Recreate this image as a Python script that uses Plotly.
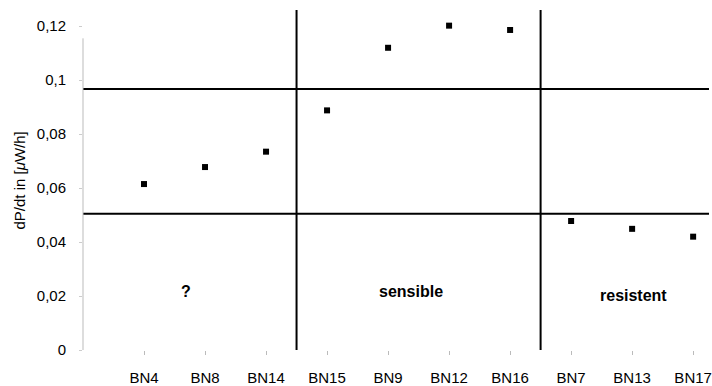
import plotly.graph_objects as go

categories = ["BN4", "BN8", "BN14", "BN15", "BN9", "BN12", "BN16", "BN7", "BN13", "BN17"]
values = [0.0615, 0.0678, 0.0735, 0.0888, 0.1120, 0.1202, 0.1186, 0.0478, 0.0449, 0.0420]
y_tickvals = [0, 0.02, 0.04, 0.06, 0.08, 0.10, 0.12]
y_ticktext = ["0", "0,02", "0,04", "0,06", "0,08", "0,1", "0,12"]
h_thresholds = [0.0967, 0.0505]
v_separators = [2.5, 6.5]
group_labels = ["?", "sensible", "resistent"]
group_label_x = [0.68, 4.38, 8.03]
group_label_y = [0.0215, 0.0215, 0.0203]

x_idx = list(range(len(categories)))
FONT = "Liberation Sans, Arial, sans-serif"

fig = go.Figure()
fig.add_trace(go.Scatter(
    x=x_idx, y=values, mode="markers",
    marker=dict(symbol="square", size=6, color="black"),
    showlegend=False, hoverinfo="skip",
))

shapes = []
for h in h_thresholds:
    shapes.append(dict(type="line", xref="paper", yref="y", x0=0, x1=1, y0=h, y1=h,
                       line=dict(color="black", width=2)))
for v in v_separators:
    shapes.append(dict(type="line", xref="x", yref="paper", x0=v, x1=v, y0=0, y1=1,
                       line=dict(color="black", width=2)))
# faint y-axis line
shapes.append(dict(type="line", xref="paper", yref="y", x0=0, x1=0, y0=0, y1=0.1155,
                   line=dict(color="#bbbbbb", width=1)))

annotations = []
for t, gx, gy in zip(group_labels, group_label_x, group_label_y):
    annotations.append(dict(x=gx, y=gy, xref="x", yref="y", text="<b>%s</b>" % t,
                            showarrow=False, font=dict(family=FONT, size=16, color="black")))
annotations.append(dict(x=0, y=0.497, xref="paper", yref="paper", xshift=-74,
                        text="dP/dt in [<i>\u03bc</i>W/h]", textangle=-90, showarrow=False,
                        font=dict(family=FONT, size=15, color="black")))

fig.update_layout(
    width=712, height=386,
    margin=dict(l=83, r=0, t=10, b=34),
    paper_bgcolor="white", plot_bgcolor="white",
    font=dict(family=FONT, size=15, color="black"),
    shapes=shapes, annotations=annotations,
    xaxis=dict(range=[-1, 9.26], tickvals=x_idx, ticktext=categories,
               showgrid=False, zeroline=False, showline=False,
               ticks="outside", ticklen=4, tickcolor="#bbbbbb", tickwidth=1,
               ticklabelstandoff=10, ticklabeloverflow="allow",
               tickfont=dict(family=FONT, size=15)),
    yaxis=dict(range=[0, 0.126], tickvals=y_tickvals, ticktext=y_ticktext,
               showgrid=False, zeroline=False, showline=False,
               ticks="outside", ticklen=3, tickcolor="#cccccc", tickwidth=1,
               ticklabelstandoff=10, tickfont=dict(family=FONT, size=15)),
)

fig.write_html("out.html")
